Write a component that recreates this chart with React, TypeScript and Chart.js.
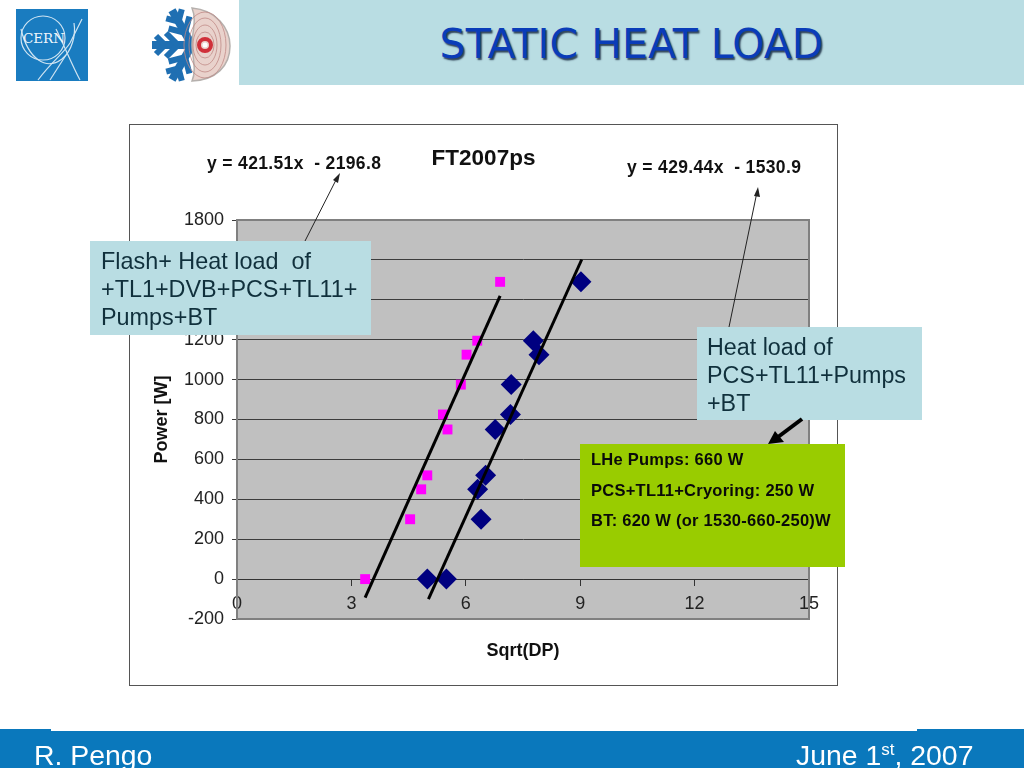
import React, { useEffect, useRef } from "react";
import { Chart, registerables } from "chart.js";

Chart.register(...registerables);

const flashX = [3.36, 4.54, 4.83, 4.99, 5.52, 5.4, 5.87, 6.02, 6.3, 6.9];
const flashY = [0, 300, 450, 520, 750, 825, 975, 1125, 1195, 1490];
const staticX = [4.99, 5.49, 6.4, 6.31, 6.52, 6.77, 7.17, 7.19, 7.92, 7.77, 9.02];
const staticY = [0, 0, 300, 450, 520, 750, 825, 975, 1125, 1195, 1490];
const flashFitX = [3.36, 6.9];
const flashFitY = [-93, 1420];
const staticFitX = [5.02, 9.04];
const staticFitY = [-100, 1602];

const ARIAL = "'Liberation Sans', Arial, sans-serif";

const zip = (xs: number[], ys: number[]) => xs.map((x, i) => ({ x, y: ys[i] }));

const plotBackground = {
  id: "plotBackground",
  beforeDatasetsDraw(chart: any) {
    const { ctx, chartArea: a } = chart;
    ctx.save();
    ctx.strokeStyle = "#808080";
    ctx.lineWidth = 2;
    ctx.strokeRect(a.left, a.top, a.width, a.height);
    ctx.restore();
  },
  beforeDraw(chart: any) {
    const { ctx, chartArea: a } = chart;
    ctx.save();
    ctx.fillStyle = "#c0c0c0";
    ctx.fillRect(a.left, a.top, a.width, a.height);
    ctx.restore();
  },
};

function Box(p: { l: number; t: number; w: number; h: number; bg: string; children?: React.ReactNode; style?: React.CSSProperties }) {
  return (
    <div style={{ position: "absolute", left: p.l, top: p.t, width: p.w, height: p.h, background: p.bg, boxSizing: "border-box", ...p.style }}>
      {p.children}
    </div>
  );
}

function Label(p: { l: number; t: number; children: React.ReactNode; style?: React.CSSProperties }) {
  return (
    <div style={{ position: "absolute", left: p.l, top: p.t, whiteSpace: "pre", fontFamily: ARIAL, ...p.style }}>{p.children}</div>
  );
}

function CernLogo() {
  return (
    <svg style={{ position: "absolute", left: 16, top: 9 }} width={72} height={72} viewBox="0 0 72 72">
      <rect width={72} height={72} fill="#1a7cc0" />
      <g fill="none" stroke="#cfe4f2" strokeWidth={1.2}>
        <circle cx={27} cy={29} r={22} />
        <path d="M5 20 C12 50 30 62 46 50 C56 42 60 26 58 14" />
        <path d="M22 71 C36 52 48 44 54 34 L66 10" />
        <path d="M34 71 L50 46" />
        <path d="M40 20 C48 36 56 56 64 71" />
      </g>
      <text x={28} y={34} textAnchor="middle" fontFamily="'DejaVu Serif', serif" fontSize={13.5} fill="#eef6fb">CERN</text>
    </svg>
  );
}

function SnowLogo() {
  const arm = (r: number) => (
    <g key={r} transform={`rotate(${r} 192 45)`}>
      <path d="M192 45 L192 5" stroke="#1f6fb2" strokeWidth={8} />
      <path d="M192 18 L183 9 M192 18 L201 9 M192 31 L180 19 M192 31 L204 19" stroke="#1f6fb2" strokeWidth={6} />
    </g>
  );
  return (
    <svg style={{ position: "absolute", left: 0, top: 0 }} width={239} height={90}>
      {[-30, -90, -150].map(arm)}
      <path d="M192 8 C216 10 230 28 230 46 C230 66 216 80 192 81 C197 70 192 56 192 45 C192 32 197 20 192 8 Z" fill="#e9d2cc" stroke="#b5b0ad" strokeWidth={1.5} />
      <g fill="none" stroke="#c08a86" strokeWidth={0.8}>
        <ellipse cx={205} cy={45} rx={21} ry={33} />
        <ellipse cx={205} cy={45} rx={16} ry={27} />
        <ellipse cx={205} cy={45} rx={12} ry={20} />
        <ellipse cx={205} cy={45} rx={9} ry={13} />
      </g>
      <circle cx={205} cy={45} r={6} fill="none" stroke="#d0303a" strokeWidth={4} />
      <circle cx={205} cy={45} r={2.5} fill="#fff" />
    </svg>
  );
}

export default function App() {
  const ref = useRef<HTMLCanvasElement>(null);

  useEffect(() => {
    document.body.style.margin = "0";
    const chart = new Chart(ref.current as HTMLCanvasElement, {
      type: "scatter",
      data: {
        datasets: [
          {
            type: "line",
            label: "Flash fit",
            data: zip(flashFitX, flashFitY),
            borderColor: "#000",
            borderWidth: 3,
            pointRadius: 0,
            order: 0,
          },
          {
            type: "line",
            label: "Static fit",
            data: zip(staticFitX, staticFitY),
            borderColor: "#000",
            borderWidth: 3,
            pointRadius: 0,
            order: 0,
          },
          {
            label: "Flash",
            data: zip(flashX, flashY),
            pointStyle: "rect",
            pointRadius: 7,
            backgroundColor: "#ff00ff",
            borderColor: "#ff00ff",
            borderWidth: 0,
            order: 2,
          },
          {
            label: "Static",
            data: zip(staticX, staticY),
            pointStyle: "rectRot",
            pointRadius: 10.5,
            backgroundColor: "#000080",
            borderColor: "#000080",
            borderWidth: 0,
            order: 1,
          },
        ],
      } as any,
      plugins: [plotBackground],
      options: {
        responsive: false,
        animation: false,
        layout: { padding: 0 },
        plugins: {
          legend: { display: false },
          tooltip: { enabled: false },
          title: {
            display: true,
            text: "FT2007ps",
            color: "#111",
            font: { family: ARIAL, size: 22.5, weight: "bold", lineHeight: 1.2 },
            padding: { top: 21, bottom: 48 },
          },
        },
        scales: {
          x: {
            type: "linear",
            position: { y: 0 } as any,
            min: 0,
            max: 15,
            ticks: {
              stepSize: 3,
              color: "#222",
              padding: 8,
              maxRotation: 0,
              autoSkip: false,
              font: { family: ARIAL, size: 18 },
              callback: (v: number) => String(v),
            },
            grid: { drawOnChartArea: false, drawTicks: true, tickLength: 6, color: "#333" },
            border: { display: true, color: "#333", width: 1 },
          },
          xTitle: {
            type: "linear",
            position: "bottom",
            axis: "x",
            min: 0,
            max: 15,
            afterFit(s: any) {
              s.height = 67;
            },
            ticks: { display: false },
            grid: { display: false },
            border: { display: false },
            title: {
              display: true,
              text: "Sqrt(DP)",
              color: "#111",
              font: { family: ARIAL, size: 18, weight: "bold", lineHeight: 1.2 },
              padding: { top: 21.2, bottom: 24.2 },
            },
          },
          y: {
            type: "linear",
            min: -200,
            max: 1800,
            afterFit(s: any) {
              s.width = 108;
            },
            ticks: {
              stepSize: 200,
              color: "#222",
              padding: 8,
              font: { family: ARIAL, size: 18 },
              callback: (v: number) => String(v),
            },
            grid: { color: "#3c3c3c", lineWidth: 1, tickLength: 5 },
            border: { display: true, color: "#808080", width: 2 },
            title: {
              display: true,
              text: "Power [W]",
              color: "#111",
              font: { family: ARIAL, size: 18, weight: "bold", lineHeight: 1.2 },
              padding: { top: 22.2, bottom: 0 },
            },
          },
          yEdge: {
            type: "linear",
            position: "right",
            axis: "y",
            min: -200,
            max: 1800,
            afterFit(s: any) {
              s.width = 29;
            },
            ticks: { display: false },
            grid: { display: false },
            border: { display: false },
          },
        },
      } as any,
    });
    return () => chart.destroy();
  }, []);

  return (
    <div style={{ position: "relative", width: 1024, height: 768, overflow: "hidden", background: "#fff" }}>
      <Box l={239} t={0} w={785} h={85} bg="#b9dde3" />
      <Label
        l={239}
        t={20}
        style={{
          width: 785,
          textAlign: "center",
          fontFamily: "'DejaVu Sans', sans-serif",
          fontSize: 41,
          lineHeight: "48px",
          color: "#0a3cb8",
          textShadow: "1.5px 1.5px 1.5px #2f4358",
        }}
      >
        STATIC HEAT LOAD
      </Label>
      <CernLogo />
      <SnowLogo />

      <canvas
        ref={ref}
        width={709}
        height={562}
        style={{ position: "absolute", left: 129, top: 124, width: 709, height: 562, outline: "1px solid #555", outlineOffset: -1 }}
      />

      <Label l={207} t={153} style={{ fontSize: 17.5, letterSpacing: 0.35, fontWeight: "bold", color: "#111", lineHeight: "20px" }}>
        {"y = 421.51x  - 2196.8"}
      </Label>
      <Label l={627} t={157} style={{ fontSize: 17.5, letterSpacing: 0.35, fontWeight: "bold", color: "#111", lineHeight: "20px" }}>
        {"y = 429.44x  - 1530.9"}
      </Label>

      <svg style={{ position: "absolute", left: 0, top: 0, pointerEvents: "none" }} width={1024} height={768}>
        <path d="M305 241 L337 178" stroke="#222" strokeWidth={1} />
        <path d="M340 173 L338 183 L333 180 Z" fill="#222" />
        <path d="M729 327 L757 192" stroke="#222" strokeWidth={1} />
        <path d="M758 187 L760 197 L754 196 Z" fill="#222" />
      </svg>

      <Box l={90} t={241} w={281} h={94} bg="#b9dde3" />
      <Label l={101} t={247} style={{ fontSize: 23.4, lineHeight: "28px", color: "#10303c" }}>
        {"Flash+ Heat load  of\n+TL1+DVB+PCS+TL11+\nPumps+BT"}
      </Label>
      <Box l={697} t={327} w={225} h={93} bg="#b9dde3" />
      <Label l={707} t={333} style={{ fontSize: 23.3, lineHeight: "28px", color: "#10303c" }}>
        {"Heat load of\nPCS+TL11+Pumps\n+BT"}
      </Label>
      <Box l={580} t={444} w={265} h={123} bg="#99cc00" />
      <Label l={591} t={444} style={{ fontSize: 16.5, letterSpacing: 0.25, fontWeight: "bold", lineHeight: "30.5px", color: "#0a0a0a" }}>
        {"LHe Pumps: 660 W\nPCS+TL11+Cryoring: 250 W\nBT: 620 W (or 1530-660-250)W"}
      </Label>
      <svg style={{ position: "absolute", left: 0, top: 0, pointerEvents: "none" }} width={1024} height={768}>
        <path d="M802 419 L778 437" stroke="#000" strokeWidth={4} />
        <path d="M768 444 L775 431 L784 442 Z" fill="#000" />
      </svg>

      <Box l={0} t={729} w={1024} h={39} bg="#0a78bc" />
      <Box l={51} t={729} w={866} h={2} bg="#fff" />
      <Label l={34} t={737} style={{ fontSize: 28.4, lineHeight: "36px", color: "#fff" }}>
        R. Pengo
      </Label>
      <Label l={796} t={737} style={{ fontSize: 28.4, lineHeight: "36px", color: "#fff" }}>
        June 1<sup style={{ fontSize: 17, lineHeight: 0 }}>st</sup>, 2007
      </Label>
    </div>
  );
}
